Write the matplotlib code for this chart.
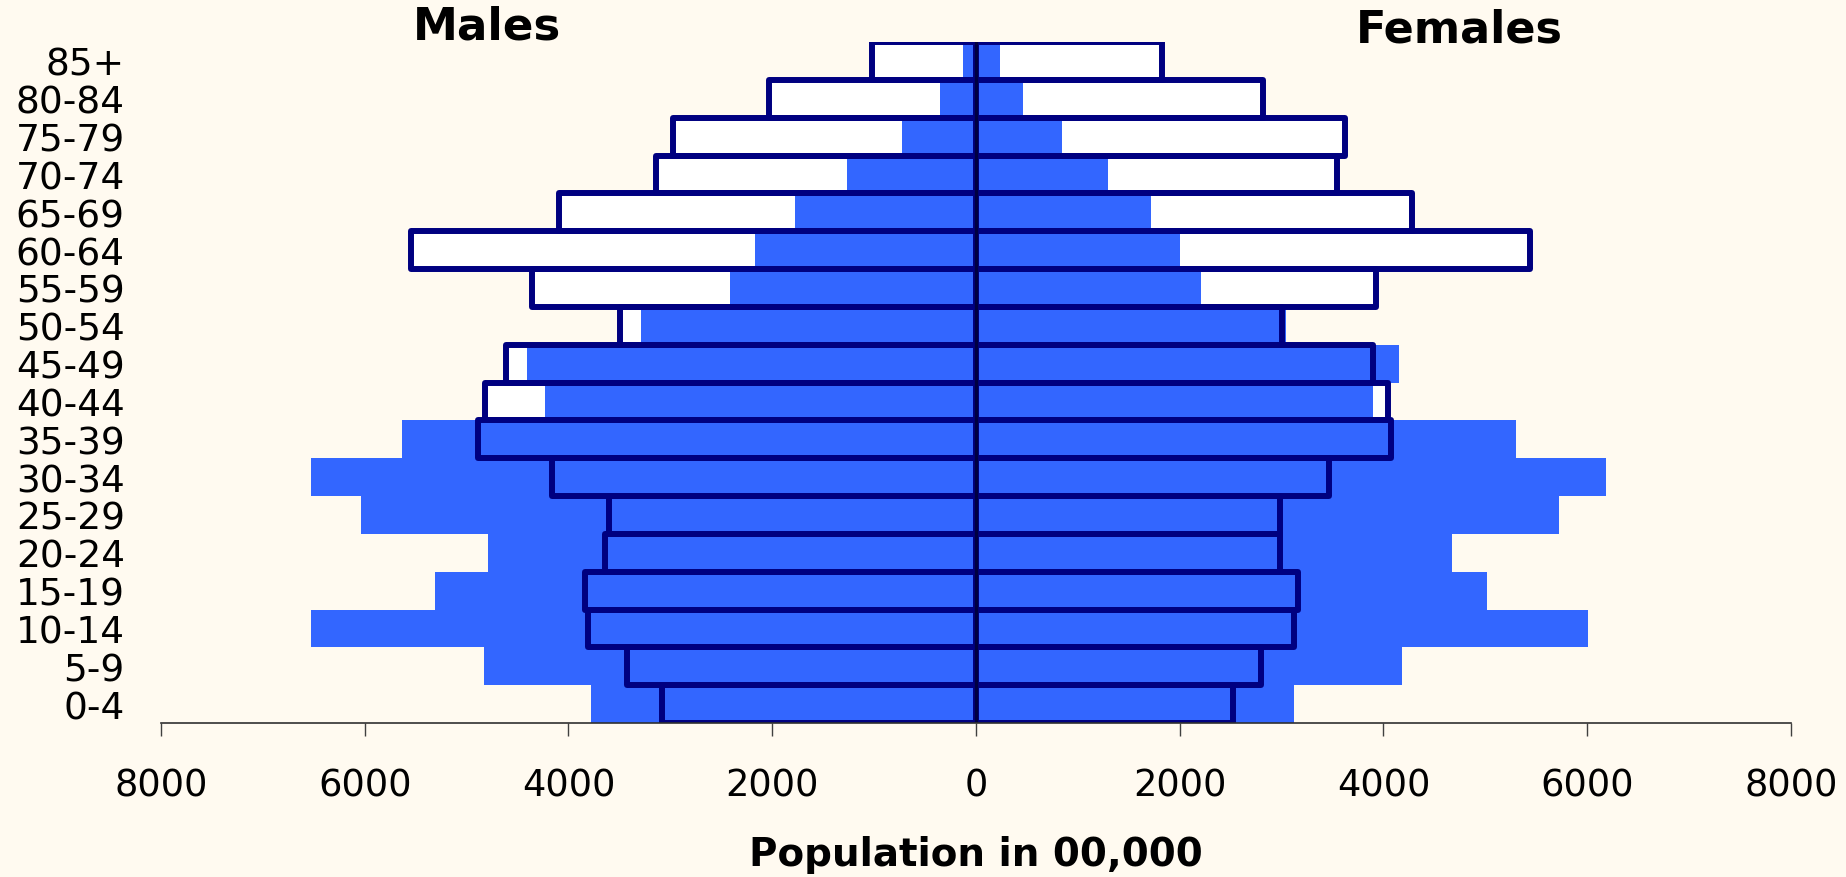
import numpy as np
import matplotlib.pyplot as plt

# Age groups, youngest first
age_groups = ['0-4', '5-9', '10-14', '15-19', '20-24', '25-29', '30-34', '35-39',
              '40-44', '45-49', '50-54', '55-59', '60-64', '65-69', '70-74',
              '75-79', '80-84', '85+']

# Filled (blue) series, population in 00,000
males_filled = [3780, 4830, 6530, 5310, 4790, 6040, 6530, 5630, 4230, 4410,
                3290, 2410, 2170, 1780, 1270, 730, 350, 130]
females_filled = [3120, 4180, 6010, 5020, 4670, 5720, 6180, 5300, 3900, 4150,
                  3040, 2210, 2000, 1720, 1300, 840, 460, 240]

# Outlined series, population in 00,000
males_outline = [3080, 3430, 3810, 3840, 3640, 3600, 4160, 4890, 4820, 4610,
                 3490, 4360, 5550, 4090, 3140, 2970, 2030, 1020]
females_outline = [2520, 2800, 3120, 3160, 2980, 2980, 3470, 4070, 4040, 3900,
                   3000, 3930, 5440, 4280, 3540, 3620, 2820, 1830]

x_ticks = [-8000, -6000, -4000, -2000, 0, 2000, 4000, 6000, 8000]

BG = '#FFFAF0'
BLUE = '#3366FF'
NAVY = '#000080'

fig = plt.figure(figsize=(18.46, 8.78), dpi=100, facecolor=BG)
ax = fig.add_axes([0.0872, 0.1754, 0.8830, 0.7756])
ax.set_facecolor(BG)

y = np.arange(len(age_groups))
m_out = -np.array(males_outline)
f_out = np.array(females_outline)

# white fill of the outlined bars sits underneath
ax.barh(y, m_out, height=1.0, color='white', edgecolor='none', zorder=1)
ax.barh(y, f_out, height=1.0, color='white', edgecolor='none', zorder=1)

# blue bars
ax.barh(y, -np.array(males_filled), height=1.0, color=BLUE, edgecolor='none', zorder=2)
ax.barh(y, females_filled, height=1.0, color=BLUE, edgecolor='none', zorder=2)

# navy outlines on top
for vals in (m_out, f_out):
    ax.barh(y, vals, height=1.0, facecolor='none', edgecolor=NAVY,
            linewidth=4.3, joinstyle='round', zorder=3)

ax.axvline(0, color='#000040', linewidth=2.4, zorder=4)

ax.set_xlim(-8000, 8000)
ax.set_ylim(-0.5, 17.5)

ax.set_xticks(x_ticks)
ax.set_xticklabels([str(abs(v)) for v in x_ticks], fontsize=26.5)
ax.set_yticks(y)
ax.set_yticklabels(age_groups, fontsize=27)

ax.tick_params(axis='x', direction='out', length=9.5, width=1.0, color='#404040', pad=22)
ax.tick_params(axis='y', length=0, pad=26)

for side in ('top', 'left', 'right'):
    ax.spines[side].set_visible(False)
ax.spines['bottom'].set_color('#303030')
ax.spines['bottom'].set_linewidth(1.2)
ax.spines['bottom'].set_zorder(5)

fig.text(0.2636, 0.9687, 'Males', fontsize=32.5, fontweight='bold',
         ha='center', va='center')
fig.text(0.7906, 0.9653, 'Females', fontsize=32, fontweight='bold',
         ha='center', va='center')
fig.text(0.5287, 0.026, 'Population in 00,000', fontsize=28, fontweight='bold',
         ha='center', va='center')

fig.savefig('out.png', dpi=100, facecolor=BG)
